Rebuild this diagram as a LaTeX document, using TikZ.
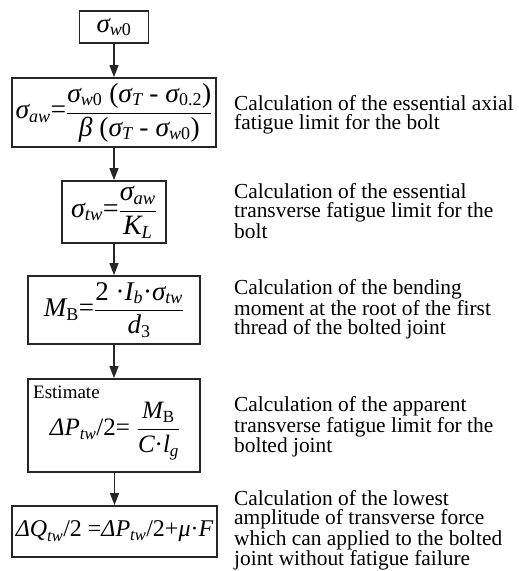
\documentclass[tikz,border=0pt]{standalone}
\usepackage{fontspec}
\setmainfont{Liberation Serif}
\usetikzlibrary{arrows.meta}
\def\ssz{18}
\newcommand\iv[1]{\mbox{\itshape #1}}
\newcommand\sub[1]{_{\mbox{\fontsize{\ssz}{\ssz}\selectfont\itshape #1}}}
\newcommand\subr[1]{_{\mbox{\fontsize{\ssz}{\ssz}\selectfont #1}}}
\newcommand\op[1]{\mbox{#1}}
\newcommand\fsz[2]{\fontsize{#1}{#1}\selectfont\def\ssz{#2}}
\begin{document}
\begin{tikzpicture}[x=1pt,y=-1pt,
  box/.style={draw=black!85,line width=1.8pt,inner sep=0pt},
  desc/.style={anchor=west,align=left,inner sep=0pt,
    font=\fontsize{21.4}{19.3}\selectfont},
  flow/.style={draw=black!85,line width=1.3pt,-{Triangle[length=12pt,width=9pt]}}]
\useasboundingbox (0,0) rectangle (519,571);

\node[box,minimum width=69pt,minimum height=32pt,font=\fsz{27}{18}] (b1) at (114,27)
  {$\iv{σ}\sub{w\upshape 0}$};
\node[box,minimum width=204pt,minimum height=69pt,font=\fsz{27.5}{18}] (b2) at (114,112.5)
  {$\iv{σ}\sub{aw}\op{=}\displaystyle\frac{\iv{σ}\sub{w\upshape 0}\op{ (}\iv{σ}\sub{T}\op{ - }\iv{σ}\sub{\upshape 0.2}\op{)}}{\iv{β}\op{ (}\iv{σ}\sub{T}\op{ - }\iv{σ}\sub{w\upshape 0}\op{)}}$};
\node[box,minimum width=104pt,minimum height=62pt,font=\fsz{28}{18.5}] (b3) at (114,212)
  {$\iv{σ}\sub{tw}\op{=}\displaystyle\frac{\iv{σ}\sub{aw}}{\iv{K}\sub{L}}$};
\node[box,minimum width=172pt,minimum height=68pt,font=\fsz{27}{18}] (b4) at (114,310)
  {$\iv{M}\subr{B}\op{=}\displaystyle\frac{\op{2 ·}\iv{I}\sub{b}\op{·}\iv{σ}\sub{tw}}{\iv{d}\subr{3}}$};
\node[box,minimum width=172pt,minimum height=93pt] (b5) at (114,425.5) {};
\node[anchor=north west,inner sep=0pt,font=\fontsize{19}{19}\selectfont] (est) at (33,386) {Estimate};
\node[inner sep=0pt,font=\fsz{25}{17}] (f5) at (115,431)
  {$\iv{ΔP}\sub{tw}\op{/2=}\;\displaystyle\frac{\iv{M}\subr{B}}{\iv{C}\op{·}\iv{l}\sub{g}}$};
\node[box,minimum width=205pt,minimum height=51pt,font=\fsz{24}{16.5}] (b6) at (114.5,531.5)
  {$\iv{ΔQ}\sub{tw}\op{/2 =}\iv{ΔP}\sub{tw}\op{/2+}\iv{μ}\op{·}\iv{F}$};

\draw[flow] (b1) -- (b2);
\draw[flow] (b2) -- (b3);
\draw[flow] (b3) -- (b4);
\draw[flow] (b4) -- (b5);
\draw[flow] (b5.south -| b6) -- (b6);

\node[desc] (t2) at (234,115) {Calculation of the essential axial\\fatigue limit for the bolt};
\node[desc] (t3) at (234,211) {Calculation of the essential\\transverse fatigue limit for the\\bolt};
\node[desc] (t4) at (234,309.5) {Calculation of the bending\\moment at the root of the first\\thread of the bolted joint};
\node[desc] (t5) at (234,427) {Calculation of the apparent\\transverse fatigue limit for the\\bolted joint};
\node[desc] (t6) at (234,530.5) {Calculation of the lowest\\amplitude of transverse force\\which can applied to the bolted\\joint without fatigue failure};
\end{tikzpicture}
\end{document}
